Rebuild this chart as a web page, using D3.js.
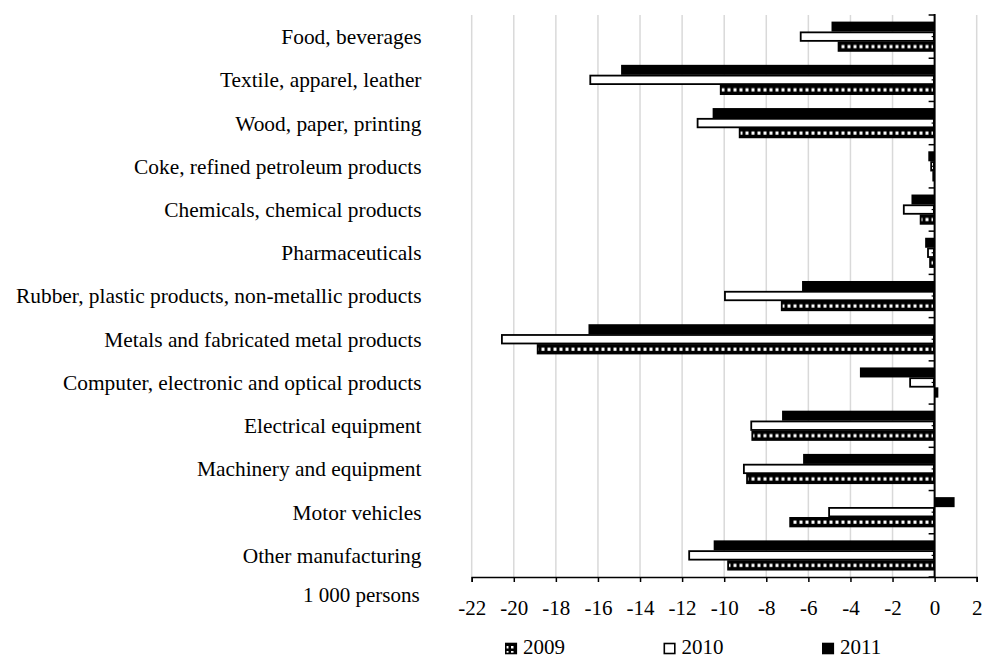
<!DOCTYPE html>
<html>
<head>
<meta charset="UTF-8">
<title>Employment change by industry</title>
<style>
  body { margin: 0; background: #fff; }
  text { font-family: "Liberation Serif", "Times New Roman", serif; fill: #000; }
  text.cat { font-size: 21.4px; }
  text.tick { font-size: 21px; }
  text.legend { font-size: 21px; }
</style>
<script src="https://d3js.org/d3.v7.min.js"></script>
</head>
<body>
<div id="chart"></div>
<script>
const categories = [
  "Food, beverages",
  "Textile, apparel, leather",
  "Wood, paper, printing",
  "Coke, refined petroleum products",
  "Chemicals, chemical products",
  "Pharmaceuticals",
  "Rubber, plastic products, non-metallic products",
  "Metals and fabricated metal products",
  "Computer, electronic and optical products",
  "Electrical equipment",
  "Machinery and equipment",
  "Motor vehicles",
  "Other manufacturing"
];
const years = ["2011", "2010", "2009"];
const legendYears = ["2009", "2010", "2011"];
const values2009 = [-4.6, -10.2, -9.3, -0.1, -0.7, -0.25, -7.3, -18.9, 0.17, -8.7, -8.95, -6.9, -9.85];
const values2010 = [-6.4, -16.4, -11.3, -0.2, -1.5, -0.35, -10.0, -20.6, -1.2, -8.75, -9.1, -5.05, -11.7];
const values2011 = [-4.9, -14.9, -10.55, -0.3, -1.1, -0.45, -6.3, -16.45, -3.55, -7.25, -6.25, 0.95, -10.5];
const xTicks = d3.range(-22, 3, 2);
const unitLabel = "1 000 persons";

const width = 984, height = 659;
const seriesByYear = { "2009": values2009, "2010": values2010, "2011": values2011 };

const svg = d3.select("#chart").append("svg")
  .attr("width", width)
  .attr("height", height);

const x = d3.scaleLinear().domain([-22, 2]).range([471.7, 976.7]);
const y = d3.scaleBand().domain(categories).range([15, 577]);
const yInner = d3.scaleBand().domain(years)
  .range([6.6, y.bandwidth() - 6.6]);

// checkered fill for 2009: one row of white squares per bar
const defs = svg.append("defs");
const pat = defs.append("pattern")
  .attr("id", "checks")
  .attr("patternUnits", "userSpaceOnUse")
  .attr("y", 15)
  .attr("width", 6).attr("height", y.step());
pat.append("rect").attr("width", 6).attr("height", y.step()).attr("fill", "#000");
pat.append("rect")
  .attr("x", 1.5).attr("y", yInner("2009") + 3.4)
  .attr("width", 3).attr("height", 3.2).attr("fill", "#fff");

const legendPat = defs.append("pattern")
  .attr("id", "checksLegend")
  .attr("patternUnits", "userSpaceOnUse")
  .attr("width", 5).attr("height", 5);
legendPat.append("rect").attr("width", 5).attr("height", 5).attr("fill", "#000");
legendPat.append("rect").attr("x", 1).attr("y", 1).attr("width", 2.5).attr("height", 2.5).attr("fill", "#fff");

// gridlines
svg.append("g").selectAll("line")
  .data(xTicks.filter(d => d !== 0))
  .join("line")
  .attr("x1", d => x(d)).attr("x2", d => x(d))
  .attr("y1", 15).attr("y2", 577)
  .attr("stroke", "#d9d9d9")
  .attr("stroke-width", 1.5);

const fills = { "2009": "url(#checks)", "2010": "#fff", "2011": "#000" };

const rows = [];
categories.forEach((c, i) => {
  years.forEach(yr => rows.push({ cat: c, year: yr, value: seriesByYear[yr][i] }));
});

svg.append("g").selectAll("rect")
  .data(rows)
  .join("rect")
  .attr("x", d => Math.min(x(d.value), x(0)) + (d.year === "2011" ? 0 : 0.75))
  .attr("y", d => y(d.cat) + yInner(d.year) + (d.year === "2011" ? 0 : 0.75))
  .attr("width", d => Math.max(0, Math.abs(x(d.value) - x(0)) - (d.year === "2011" ? 0 : 1.5)))
  .attr("height", d => yInner.bandwidth() - (d.year === "2011" ? 0 : 1.5))
  .attr("fill", d => fills[d.year])
  .attr("stroke", d => d.year === "2011" ? "none" : "#000")
  .attr("stroke-width", 1.8);

// vertical category axis at zero
const x0 = x(0);
svg.append("line")
  .attr("x1", x0).attr("x2", x0)
  .attr("y1", 14).attr("y2", 577)
  .attr("stroke", "#000").attr("stroke-width", 2);
svg.append("g").selectAll("line")
  .data(categories.concat(["end"]))
  .join("line")
  .attr("x1", x0 - 6).attr("x2", x0)
  .attr("y1", (d, i) => 15 + i * y.step())
  .attr("y2", (d, i) => 15 + i * y.step())
  .attr("stroke", "#000").attr("stroke-width", 1.5);
svg.append("g").selectAll("line")
  .data(categories)
  .join("line")
  .attr("x1", x0 - 3).attr("x2", x0)
  .attr("y1", d => y(d) + y.bandwidth() / 2)
  .attr("y2", d => y(d) + y.bandwidth() / 2)
  .attr("stroke", "#000").attr("stroke-width", 1.2);

// category labels
svg.append("g").selectAll("text")
  .data(categories)
  .join("text")
  .attr("class", "cat")
  .attr("x", 421.5)
  .attr("y", d => y(d) + y.bandwidth() / 2)
  .attr("dy", "0.35em")
  .attr("text-anchor", "end")
  .text(d => d);

// bottom value axis
const xAxis = svg.append("g")
  .attr("transform", "translate(0,577)")
  .call(d3.axisBottom(x).tickValues(xTicks).tickSize(5).tickFormat(d3.format("d")));
xAxis.select(".domain").attr("stroke", "#000").attr("stroke-width", 1.5);
xAxis.selectAll(".tick line").attr("stroke", "#000").attr("stroke-width", 1.5);
xAxis.selectAll(".tick text")
  .attr("class", "tick")
  .attr("y", 38)
  .attr("dy", 0)
  .attr("font-family", null)
  .attr("font-size", null)
  .text(d => d < 0 ? "-" + Math.abs(d) : d);

svg.append("text")
  .attr("class", "tick")
  .attr("x", 303)
  .attr("y", 602)
  .text(unitLabel);

// legend
const legendFills = { "2009": "url(#checksLegend)", "2010": "#fff", "2011": "#000" };
const legendX = d3.scalePoint().domain(legendYears).range([505, 822]);
const lg = svg.append("g").selectAll("g")
  .data(legendYears)
  .join("g")
  .attr("transform", d => `translate(${legendX(d)},0)`);
lg.append("rect")
  .attr("x", 0.8).attr("y", 643.5)
  .attr("width", 10.5).attr("height", 10)
  .attr("fill", d => legendFills[d])
  .attr("stroke", "#000")
  .attr("stroke-width", 1.6);
lg.append("text")
  .attr("class", "legend")
  .attr("x", 18)
  .attr("y", 654)
  .text(d => d);
</script>
</body>
</html>
